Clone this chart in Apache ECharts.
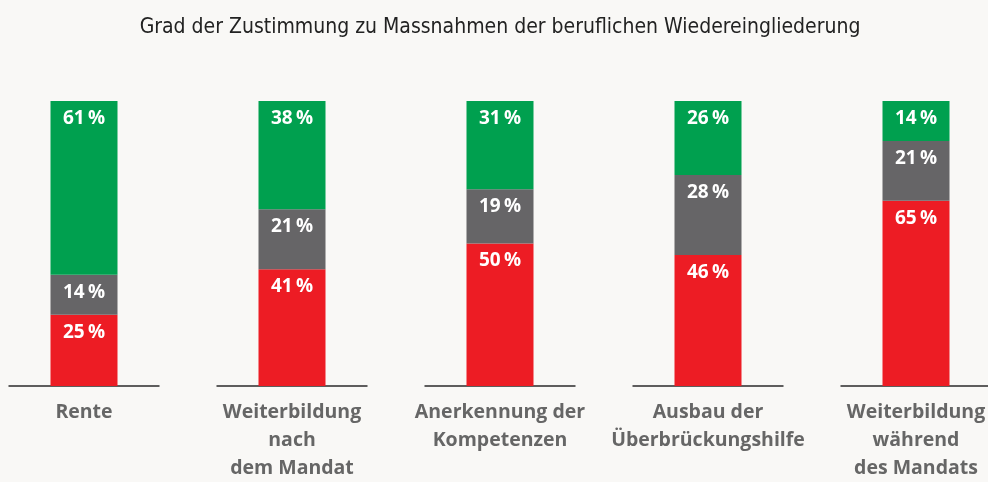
<!DOCTYPE html>
<html>
<head>
<meta charset="utf-8">
<script src="https://cdn.jsdelivr.net/npm/echarts@6/dist/echarts.min.js"></script>
<style>
  html, body { margin: 0; padding: 0; background: #f9f8f6; overflow: hidden; }
  #wrap { position: relative; width: 988px; height: 482px; overflow: hidden; }
  /* the plot is a little wider than the window so the outer bands run off the edges */
  #chart { position: absolute; left: -20px; top: 0; width: 1040px; height: 482px; }
</style>
</head>
<body>
<div id="wrap"><div id="chart"></div></div>
<script>
// Zustimmung je Massnahme, Anteile in Prozent (unten → oben)
const categories = [
  'Rente',
  'Weiterbildung\nnach\ndem Mandat',
  'Anerkennung der\nKompetenzen',
  'Ausbau der\nÜberbrückungshilfe',
  'Weiterbildung\nwährend\ndes Mandats'
];
const redValues   = [25, 41, 50, 46, 65];
const greyValues  = [14, 21, 19, 28, 21];
const greenValues = [61, 38, 31, 26, 14];

const chart = echarts.init(document.getElementById('chart'));

const labelStyle = {
  show: true,
  position: 'insideTop',
  distance: 8,
  color: '#ffffff',
  fontFamily: '"Open Sans", sans-serif',
  fontWeight: 'bold',
  fontSize: 19,
  formatter: p => p.value + '\u2009%'
};

function stackSeries(name, values, color) {
  return {
    name: name,
    type: 'bar',
    stack: 'total',
    data: values,
    barWidth: 67,
    itemStyle: { color: color },
    label: labelStyle,
    z: 3
  };
}

chart.setOption({
  backgroundColor: '#f9f8f6',
  animation: false,
  title: {
    text: 'Grad der Zustimmung zu Massnahmen der beruflichen Wiedereingliederung',
    left: 'center',
    top: 12,
    textStyle: {
      fontFamily: '"Liberation Sans Narrow", "DejaVu Sans Condensed", sans-serif',
      fontWeight: 'normal',
      fontSize: 21,
      color: '#222222'
    }
  },
  grid: { left: 0, right: 0, top: 101, bottom: 94 },
  xAxis: {
    type: 'category',
    data: categories,
    axisLine: { show: false },
    axisTick: { show: false },
    axisLabel: {
      interval: 0,
      margin: 12,
      color: '#666666',
      fontFamily: '"Open Sans", sans-serif',
      fontWeight: 'bold',
      fontSize: 19.5,
      lineHeight: 28
    }
  },
  yAxis: {
    type: 'value',
    min: 0,
    max: 100,
    show: false,
    splitLine: { show: false }
  },
  series: [
    // kurze Grundlinie unter jedem Balken
    {
      type: 'custom',
      z: 1,
      silent: true,
      data: categories.map((c, i) => [i, 0]),
      renderItem: function (params, api) {
        const p = api.coord([api.value(0), 0]);
        const band = api.size([1, 0])[0];
        const half = band * 0.363;
        return {
          type: 'line',
          shape: { x1: p[0] - half, y1: p[1], x2: p[0] + half, y2: p[1] },
          style: { stroke: '#2a2a2a', lineWidth: 1.5 }
        };
      }
    },
    stackSeries('rot', redValues, '#ed1c24'),
    stackSeries('grau', greyValues, '#666567'),
    stackSeries('grün', greenValues, '#00a04f')
  ]
});
</script>
</body>
</html>
